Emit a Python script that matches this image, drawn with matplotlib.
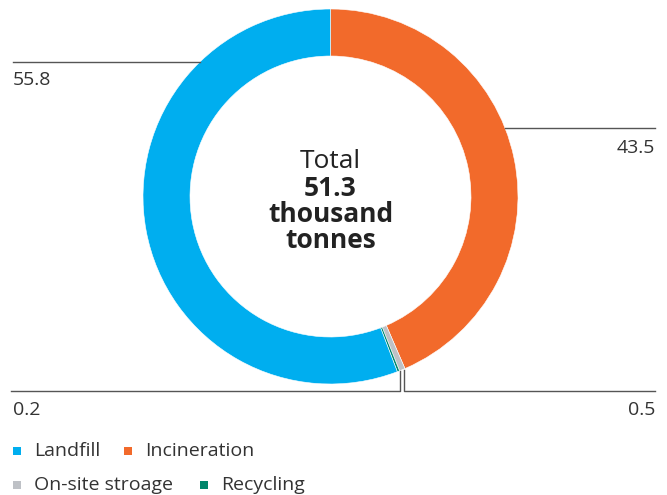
import numpy as np
import matplotlib
matplotlib.use("Agg")
import matplotlib.pyplot as plt
from matplotlib.patches import Rectangle

# data, in the order the ring is drawn (clockwise from the top)
categories = ["Incineration", "On-site stroage", "Recycling", "Landfill"]
values = [43.5, 0.5, 0.2, 55.8]
colors = ["#F26A2B", "#BEC1C6", "#00866B", "#00AEEF"]
value_labels = ["43.5", "0.5", "0.2", "55.8"]
legend_order = ["Landfill", "Incineration", "On-site stroage", "Recycling"]
total_text = ["Total", "51.3", "thousand", "tonnes"]

W, H = 667, 495
plt.rcParams["font.family"] = ["Open Sans", "DejaVu Sans"]
text_col = "#333333"
line_col = "#555555"

fig = plt.figure(figsize=(W / 100, H / 100), dpi=100)
ax = fig.add_axes([0, 0, 1, 1])

cx, cy = 330.5, H - 196.5
r_out, ring = 187.5, 47

wedges, _ = ax.pie(values, colors=colors, startangle=90, counterclock=False,
                   center=(cx, cy), radius=r_out, frame=True,
                   wedgeprops=dict(width=ring, edgecolor="white", linewidth=0.4))
ax.set_xlim(0, W)
ax.set_ylim(0, H)
ax.set_aspect("equal")
ax.axis("off")


def px(y):
    return H - y


# leader lines for the two big slices: horizontal, ending on the ring
def ring_x(y_pix, side):
    dy = cy - px(y_pix)
    return cx + side * np.sqrt(r_out ** 2 - dy ** 2)


fs = 14
# Landfill (left, top)
y_l = 62
ax.plot([13, ring_x(y_l, -1)], [px(y_l), px(y_l)], color=line_col, lw=1)
ax.text(13, px(80), value_labels[3], ha="left", va="center", fontsize=fs, color=text_col)
# Incineration (right)
y_r = 128
ax.plot([ring_x(y_r, 1), 655], [px(y_r), px(y_r)], color=line_col, lw=1)
ax.text(655, px(148), value_labels[0], ha="right", va="center", fontsize=fs, color=text_col)

# small slices: vertical drop from the ring, then horizontal
cum = np.cumsum([0] + values)
tot = cum[-1]
y_base = 390.5
for i, side_end in [(2, 11), (1, 655)]:
    mid = (cum[i] + cum[i + 1]) / 2 / tot * 2 * np.pi
    x0 = cx + r_out * np.sin(mid) + 2
    y0 = cy + r_out * np.cos(mid)
    ax.plot([x0, x0, side_end], [y0, px(y_base), px(y_base)], color=line_col, lw=1)
ax.text(13, px(410), value_labels[2], ha="left", va="center", fontsize=fs, color=text_col)
ax.text(655, px(410), value_labels[1], ha="right", va="center", fontsize=fs, color=text_col)

# centre text
ax.text(cx, px(162), total_text[0], ha="center", va="center", fontsize=19, color="#222222")
for k, t in enumerate(total_text[1:]):
    ax.text(cx, px(189 + 26 * k), t, ha="center", va="center", fontsize=19,
            fontweight="bold", color="#222222")

# legend
leg_pos = {"Landfill": (13, 451), "Incineration": (124, 451),
           "On-site stroage": (13, 485), "Recycling": (200, 485)}
for name in legend_order:
    x, y = leg_pos[name]
    c = colors[categories.index(name)]
    ax.add_patch(Rectangle((x, px(y) - 4), 8, 8, color=c, lw=0))
    ax.text(x + 21, px(y), name, ha="left", va="center", fontsize=fs, color=text_col)

fig.savefig("out.png", dpi=100)
